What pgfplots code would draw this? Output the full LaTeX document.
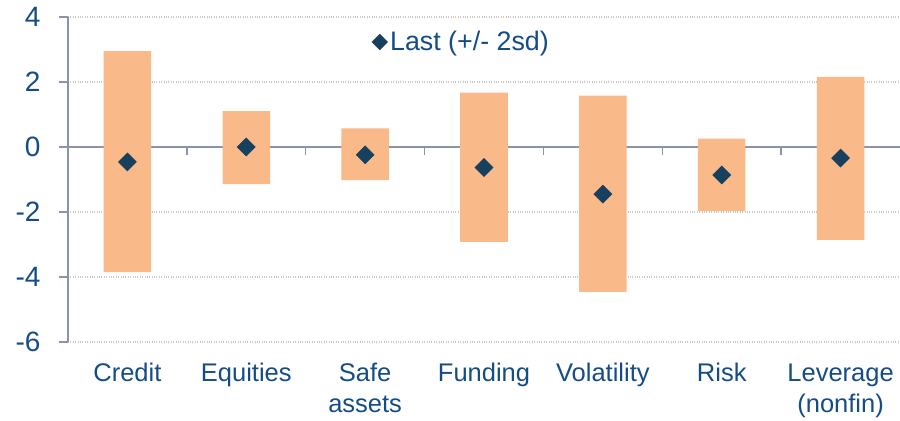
\documentclass[border=0pt]{standalone}
\usepackage{fontspec}
\setmainfont{Liberation Sans}
\usepackage{pgfplots}
\pgfplotsset{compat=1.18}
\usepackage{pgfplotstable}
\definecolor{peach}{HTML}{FAB988}
\definecolor{navy}{HTML}{17405F}
\definecolor{txtblue}{HTML}{144C86}
\definecolor{axgray}{HTML}{8A93AA}
\definecolor{gridgray}{HTML}{CACACA}

\pgfplotstableread{
x lo hi last
0 -3.85 2.95 -0.46
1 -1.14 1.10 0.00
2 -1.02 0.57 -0.24
3 -2.92 1.67 -0.63
4 -4.46 1.58 -1.45
5 -1.97 0.26 -0.86
6 -2.86 2.16 -0.34
}\datatab

\begin{document}
\begin{tikzpicture}
\begin{axis}[
  name=ax, at={(0,0)}, anchor=south west,
  width=832bp, height=325bp, scale only axis,
  xmin=-0.5, xmax=6.5, ymin=-6, ymax=4,
  separate axis lines,
  axis x line*=bottom, x axis line style={draw=none},
  axis y line*=left, y axis line style={axgray, line width=1.5bp, -},
  xtick={0,...,6},
  xticklabels={Credit,Equities,Safe\\assets,Funding,Volatility,Risk,Leverage\\(nonfin)},
  major x tick style={draw=none},
  xticklabel style={align=center, anchor=north, text=txtblue, yshift=-9bp,
    font=\fontsize{25.5bp}{31bp}\selectfont},
  ytick={-6,-4,-2,0,2,4},
  yticklabels={-6,-4,-2,0,2,4},
  yticklabel style={text=txtblue, xshift=-15bp, font=\fontsize{28bp}{32bp}\selectfont},
  tick align=outside, major tick length=9bp,
  ytick style={axgray, line width=1.5bp},
  ymajorgrids, major grid style={gridgray, dotted, line width=1.1bp},
  stack plots=y,
  legend style={draw=none, fill=none, at={(0.473,0.923)}, anchor=center,
    font=\fontsize{26.8bp}{31bp}\selectfont, text=txtblue,
    nodes={inner sep=2.5bp}},
  legend cell align=left,
  legend image code/.code={
    \draw[navy] plot[mark=square*, mark size=5.6bp, mark options={rotate=45, fill=navy, draw=navy}] coordinates {(0bp,0bp)};
  },
]
\addplot[ybar, bar width=0.4, draw=none, fill=none, forget plot] table[x=x, y=lo] {\datatab};
\addplot[ybar, bar width=0.4, draw=none, fill=peach, forget plot] table[x=x, y expr=\thisrow{hi}-\thisrow{lo}] {\datatab};
\addplot[axgray, line width=1.5bp, mark=none, stack plots=false, forget plot] coordinates {(-0.5,0) (6.5,0)};
\pgfplotsinvokeforeach{0.5,1.5,2.5,3.5,4.5,5.5}{
  \draw[axgray, line width=1.5bp] (axis cs:#1,0) -- ([yshift=-8bp]axis cs:#1,0);
}
\addplot[only marks, mark=square*, mark size=6.4bp, mark options={rotate=45, fill=navy, draw=navy}, stack plots=false] table[x=x, y=last] {\datatab};
\addlegendentry{Last (+/- 2sd)}
\end{axis}
\pgfresetboundingbox
\path[use as bounding box] (-68bp,-79bp) rectangle (832bp,342bp);
\end{tikzpicture}
\end{document}
